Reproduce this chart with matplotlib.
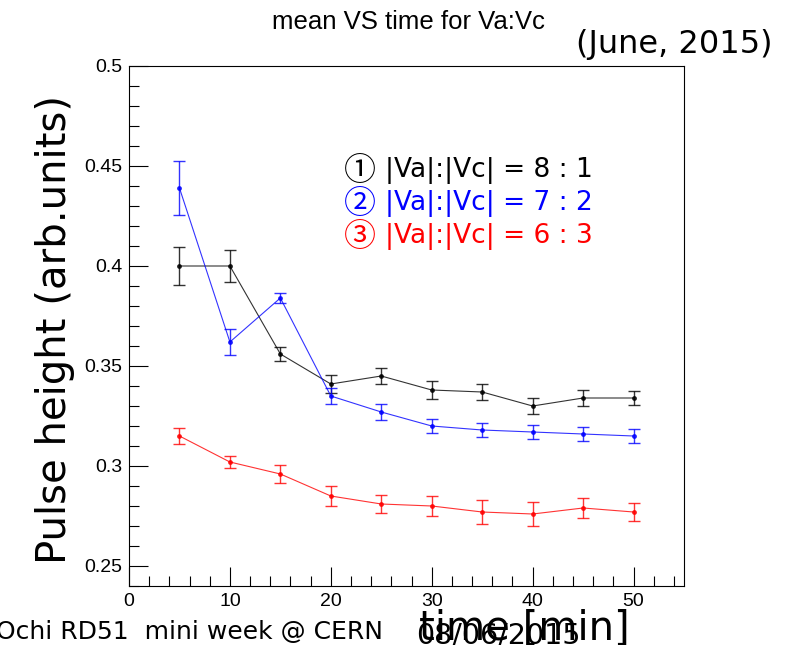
import matplotlib
matplotlib.use("Agg")
import matplotlib.pyplot as plt
from matplotlib.ticker import MultipleLocator

# data
time_min = [5, 10, 15, 20, 25, 30, 35, 40, 45, 50]
ph_81 = [0.400, 0.400, 0.356, 0.341, 0.345, 0.338, 0.337, 0.330, 0.334, 0.334]
err_81 = [0.0095, 0.008, 0.0035, 0.0045, 0.004, 0.0045, 0.004, 0.004, 0.004, 0.0036]
ph_72 = [0.439, 0.362, 0.384, 0.335, 0.327, 0.320, 0.318, 0.317, 0.316, 0.315]
err_72 = [0.0135, 0.0063, 0.0027, 0.004, 0.0038, 0.0034, 0.0035, 0.0033, 0.0033, 0.0033]
ph_63 = [0.315, 0.302, 0.296, 0.285, 0.281, 0.280, 0.277, 0.276, 0.279, 0.277]
err_63 = [0.0038, 0.003, 0.0043, 0.005, 0.0044, 0.0049, 0.006, 0.006, 0.0049, 0.0047]

circled = ["\u2460", "\u2461", "\u2462"]
ratios = ["|Va|:|Vc| = 8 : 1", "|Va|:|Vc| = 7 : 2", "|Va|:|Vc| = 6 : 3"]
colors = ["black", "blue", "red"]

fig = plt.figure(figsize=(7.97, 6.45), dpi=100)
ax = fig.add_axes([129 / 797, 1 - 586 / 645, 555 / 797, 520 / 645])

for y, e, c in zip([ph_81, ph_72, ph_63], [err_81, err_72, err_63], colors):
    ax.errorbar(time_min, y, yerr=e, color=c, marker='o', markersize=2.5,
                linewidth=0.8, elinewidth=1.0, capsize=4, capthick=1.0, alpha=0.8)

ax.set_xlim(0, 55)
ax.set_ylim(0.24, 0.5)
ax.xaxis.set_major_locator(MultipleLocator(10))
ax.xaxis.set_minor_locator(MultipleLocator(2))
ax.yaxis.set_major_locator(MultipleLocator(0.05))
ax.yaxis.set_minor_locator(MultipleLocator(0.01))
ax.yaxis.set_major_formatter(plt.FuncFormatter(lambda v, p: f"{v:g}"))
ax.tick_params(which='both', direction='in', top=False, right=False,
               labelsize=14, labelfontfamily='Liberation Sans', pad=5)
ax.tick_params(which='major', length=14, width=0.8)
ax.tick_params(which='minor', length=7, width=0.8)
for s in ax.spines.values():
    s.set_linewidth(0.8)

# texts
fig.text(408 / 797, 1 - 22 / 645, "mean VS time for Va:Vc", ha='center', va='center',
         fontsize=18.5, family='Liberation Sans')
fig.text(674 / 797, 1 - 44 / 645, "(June, 2015)", ha='center', va='center', fontsize=23)
fig.text(55 / 797, 1 - 330 / 645, "Pulse height (arb.units)", ha='center', va='center',
         rotation=90, fontsize=29)
fig.text(-4 / 797, 1 - 632 / 645, "Ochi RD51  mini week @ CERN", ha='left', va='center',
         fontsize=18)
fig.text(498 / 797, 1 - 636 / 645, "08/06/2015", ha='center', va='center', fontsize=20.5)
fig.text(524 / 797, 1 - 640 / 645, "time [min]", ha='center', va='baseline', fontsize=29)

for i, (cd, lab, c) in enumerate(zip(circled, ratios, colors)):
    yy = 1 - (171 + 33 * i) / 645
    fig.text(344 / 797, yy, cd, ha='left', va='center', fontsize=23, color=c,
             family=['Noto Sans CJK JP', 'DejaVu Sans'])
    fig.text(385 / 797, yy, lab, ha='left', va='center', fontsize=19, color=c)

fig.savefig("out.png", dpi=100)
